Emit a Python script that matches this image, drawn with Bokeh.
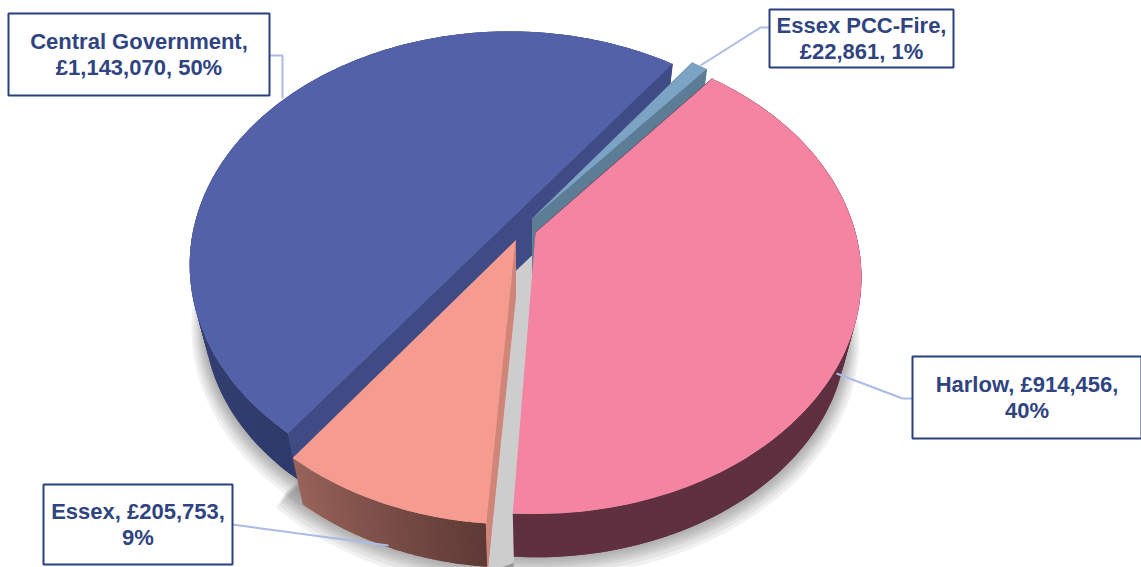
import numpy as np
from bokeh.core.properties import value
from bokeh.embed import file_html
from bokeh.models import Range1d
from bokeh.plotting import figure
from bokeh.resources import INLINE

# Funding split
categories = ["Central Government", "Essex PCC-Fire", "Harlow", "Essex"]
amounts = [1143070, 22861, 914456, 205753]

# Where each label line wraps, as (first line, second line) templates
label_templates = [
    ("{name},", "£{amount:,}, {pct}%"),
    ("{name},", "£{amount:,}, {pct}%"),
    ("{name}, £{amount:,},", "{pct}%"),
    ("{name}, £{amount:,},", "{pct}%"),
]

# Projection of each exploded slice: apex position, radii, small rotation
apex_x = [509, 532, 535, 515]
apex_y = [220, 218, 232, 240]
radius_x = [314, 308, 320, 316]
radius_y = [225, 224, 228, 230]
slice_twist = [0, 0, 1.0, 0]

top_colors = ["#5361a9", "#7ba3c4", "#f584a2", "#f69b90"]
face_colors = ["#3f4b84", "#5d7c96", "#5f3040", "#d08579"]
wall_colors_a = ["#2e3a6a", "#5d7c96", "#5f3040", "#5e3a36"]
wall_colors_b = ["#4a5aa0", "#5d7c96", "#5f3040", "#98635a"]

# Which cut faces can be seen: (clockwise-start edge, clockwise-end edge)
faces_shown = [(True, True), (True, True), (True, False), (True, False)]

# Label boxes: left, right, top, bottom
box_left = [8, 769, 912, 43]
box_right = [269, 953, 1141, 232]
box_top = [13, 9, 356, 484]
box_bottom = [95, 67, 438, 564]

# Leader lines, from box to slice
leader_xs = [[269, 282, 282], [769, 760, 700], [912, 902, 836], [232, 388]]
leader_ys = [[55, 55, 98], [27, 27, 65], [398, 398, 373], [524, 545]]

PERSPECTIVE = 0.19
START_ANGLE = 53.3          # upper end of the first half, degrees
DEPTH = 56
BASE_SCALE = 0.955
NAVY = "#2a4080"
TEXT_COLOR = "#2f4480"

total = sum(amounts)
fractions = [a / total for a in amounts]

# Slices run clockwise; Central Government ends at START_ANGLE
angle_edges = []
cursor = START_ANGLE + 360 * fractions[0]
for f in fractions:
    angle_edges.append((cursor, cursor - 360 * f))
    cursor -= 360 * f


def project(i, theta_deg, lower=False):
    """Map pie-plane angles (or the apex, when None) to page coordinates."""
    scale = BASE_SCALE if lower else 1.0
    drop = DEPTH if lower else 0
    if theta_deg is None:
        return np.array([apex_x[i]], float), np.array([apex_y[i] + drop], float)
    t = np.radians(np.atleast_1d(theta_deg) + slice_twist[i])
    den = 1 + PERSPECTIVE * np.sin(t)
    x = apex_x[i] + scale * radius_x[i] * np.cos(t) / den
    y = apex_y[i] + drop - scale * radius_y[i] * np.sin(t) / den
    return x, y


def mix(c1, c2, t):
    a = [int(c1[k:k + 2], 16) for k in (1, 3, 5)]
    b = [int(c2[k:k + 2], 16) for k in (1, 3, 5)]
    return "#%02x%02x%02x" % tuple(int(round(p + (q - p) * t)) for p, q in zip(a, b))


p = figure(width=1141, height=567, output_backend="svg", toolbar_location=None,
           x_range=Range1d(0, 1141), y_range=Range1d(567, 0),
           min_border=0, outline_line_color=None, background_fill_color="white")
p.axis.visible = False
p.grid.visible = False

# Soft floor shadow: stacked, slightly growing copies of the base outline
for grow in (16, 13, 10, 8, 6, 4, 2):
    for i, (a0, a1) in enumerate(angle_edges):
        if fractions[i] < 0.02:
            continue
        th = np.linspace(a0 + 4, a1 - 4, 120)
        x, y = project(i, th, lower=True)
        ax, ay = project(i, None, lower=True)
        dx, dy = x - ax[0], y - ay[0]
        d = np.hypot(dx, dy)
        xs = np.concatenate([ax, ax[0] + dx * (1 + 0.8 * grow / d)])
        ys = np.concatenate([ay, ay[0] + dy * (1 + 0.8 * grow / d) + grow * 0.5])
        p.patch(xs, ys, fill_color="#606060", fill_alpha=0.09, line_color=None)

# Gap between Harlow and Essex, where the shadow falls
hx, hy = project(2, None)
hx2, hy2 = project(2, angle_edges[2][1], lower=True)
ex, ey = project(3, None, lower=True)
ex2, ey2 = project(3, angle_edges[3][0], lower=True)
p.patch([hx[0], hx2[0], ex2[0], ex[0], ex[0]],
        [hy[0], hy2[0] + 6, ey2[0] + 6, ey[0], hy[0] + 30],
        fill_color="#cdcdcd", line_color=None)

# Slices back to front: outer wall, cut faces, then the top
for i, (a0, a1) in enumerate(angle_edges):
    th = np.linspace(a0, a1, 121)
    wall_x, wall_y, wall_c = [], [], []
    for j in range(len(th) - 2):
        seg = th[j:j + 3]
        xt, yt = project(i, seg)
        xb, yb = project(i, seg, lower=True)
        wall_x.append(np.concatenate([xt, xb[::-1]]).tolist())
        wall_y.append(np.concatenate([yt, yb[::-1]]).tolist())
        wall_c.append(mix(wall_colors_a[i], wall_colors_b[i], j / (len(th) - 3)))
    p.patches(wall_x, wall_y, fill_color=wall_c, line_color=None)

    for edge, shown in zip((a0, a1), faces_shown[i]):
        if not shown:
            continue
        tx, ty = project(i, edge)
        bx, by = project(i, edge, lower=True)
        cx, cy = project(i, None)
        dx, dy = project(i, None, lower=True)
        p.patch([cx[0], tx[0], bx[0], dx[0]], [cy[0], ty[0], by[0], dy[0]],
                fill_color=face_colors[i], line_color=face_colors[i], line_width=1)

    x, y = project(i, th)
    cx, cy = project(i, None)
    p.patch(np.concatenate([cx, x]), np.concatenate([cy, y]),
            fill_color=top_colors[i], line_color=None)

# Leader lines and label boxes
p.multi_line(leader_xs, leader_ys, line_color="#a9bbe6", line_width=2)
p.quad(left=box_left, right=box_right, top=box_top, bottom=box_bottom,
       fill_color="white", line_color=NAVY, line_width=2)

for i, name in enumerate(categories):
    pct = round(fractions[i] * 100)
    mid_x = (box_left[i] + box_right[i]) / 2
    mid_y = (box_top[i] + box_bottom[i]) / 2
    for k, tmpl in enumerate(label_templates[i]):
        p.text([mid_x], [mid_y + (k - 0.5) * 26.5],
               text=[tmpl.format(name=name, amount=amounts[i], pct=pct)],
               text_font=value("Liberation Sans"), text_font_style="bold",
               text_font_size="22px", text_color=TEXT_COLOR,
               text_align="center", text_baseline="middle")

open("out.html", "w").write(file_html(p, INLINE))
